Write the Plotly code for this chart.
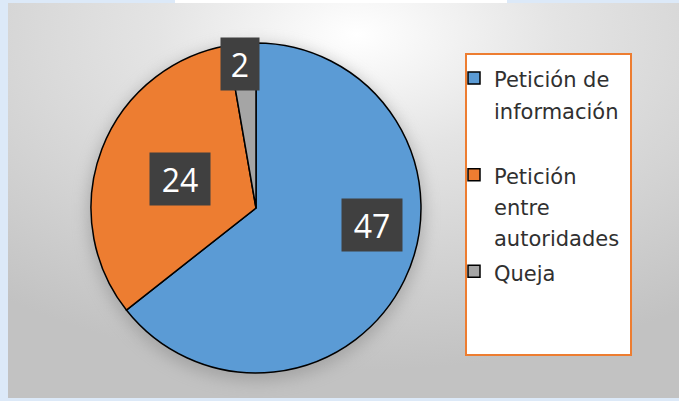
import math, base64
import plotly.graph_objects as go

# ---- data ----
categories = ["Petición de información", "Petición entre autoridades", "Queja"]
legend_lines = [["Petición de", "información", ""], ["Petición", "entre", "autoridades"], ["Queja"]]
values = [47, 24, 2]
colors = ["#5b9bd5", "#ed7d31", "#a5a5a5"]
label_pos = [(0.424, 0.71), (0.50, 0.49), (0.35, 0.88)]   # (fraction along slice, fraction of radius)

W, H = 679, 401
cx_px, cy_px, r_px = 256, 208, 165

svg = f'''<svg xmlns="http://www.w3.org/2000/svg" width="{W-8}" height="{H-6}" viewBox="0 0 {W-8} {H-6}">
<defs>
<radialGradient id="g" cx="0.52" cy="0.08" r="0.85" gradientUnits="objectBoundingBox">
<stop offset="0" stop-color="#ffffff"/>
<stop offset="0.35" stop-color="#e4e4e4"/>
<stop offset="1" stop-color="#c2c2c2"/>
</radialGradient>
<filter id="b" x="-50%" y="-50%" width="200%" height="200%"><feGaussianBlur stdDeviation="8"/></filter>
</defs>
<rect x="0" y="0" width="{W-8}" height="{H-6}" fill="url(#g)"/>
<circle cx="{cx_px-8}" cy="{cy_px-3+5}" r="{r_px+3}" fill="#8a8a8a" opacity="0.55" filter="url(#b)"/>
</svg>'''
src = "data:image/svg+xml;base64," + base64.b64encode(svg.encode()).decode()

dx0 = (cx_px - r_px) / W
dx1 = (cx_px + r_px) / W
dy0 = (H - cy_px - r_px) / H
dy1 = (H - cy_px + r_px) / H

span = "<span style='font-family:DejaVu Sans, sans-serif;font-size:21px'>{}</span>"
legend_labels = ["<br>".join(span.format(l if l else "&nbsp;") for l in lines) for lines in legend_lines]

fig = go.Figure()
fig.add_trace(go.Pie(
    labels=legend_labels,
    values=values,
    customdata=categories,
    sort=False,
    direction="clockwise",
    rotation=0,
    marker=dict(colors=colors, line=dict(color="#000000", width=1.5)),
    textinfo="none",
    hovertemplate="%{customdata}: %{value}<extra></extra>",
    domain=dict(x=[dx0, dx1], y=[dy0, dy1]),
))

total = sum(values)
cum = 0
pcx = (dx0 + dx1) / 2
pcy = (dy0 + dy1) / 2
rx = r_px / W
ry = r_px / H
for v, (fa, fr) in zip(values, label_pos):
    ang = (cum + fa * v) / total * 2 * math.pi
    cum += v
    x = pcx + fr * rx * math.sin(ang)
    y = pcy + fr * ry * math.cos(ang)
    fig.add_annotation(
        x=x, y=y, xref="paper", yref="paper", text=str(v), showarrow=False,
        font=dict(family="Open Sans, sans-serif", size=32, color="#ffffff"),
        bgcolor="#404040", width=58 if v >= 10 else 36, height=50,
        xanchor="center", yanchor="middle",
    )

fig.update_layout(
    width=W, height=H,
    margin=dict(l=0, r=0, t=0, b=0),
    paper_bgcolor="#dce9f8",
    plot_bgcolor="rgba(0,0,0,0)",
    images=[dict(source=src, xref="paper", yref="paper", x=8 / W, y=1 - 3 / H,
                 sizex=1 - 8 / W, sizey=1 - 6 / H, sizing="stretch", layer="below",
                 xanchor="left", yanchor="top")],
    shapes=[
        dict(type="rect", xref="paper", yref="paper", x0=175 / W, x1=507 / W,
             y0=1 - 3 / H, y1=1, fillcolor="#ffffff", line=dict(width=0), layer="below"),
        dict(type="rect", xref="paper", yref="paper", x0=466 / W, x1=631 / W,
             y0=1 - 355 / H, y1=1 - 54 / H, fillcolor="#ffffff",
             line=dict(color="#ed7d31", width=2), layer="below"),
    ],
    showlegend=True,
    legend=dict(
        x=454 / W, y=1 - 56 / H, xanchor="left", yanchor="top",
        bgcolor="rgba(0,0,0,0)", borderwidth=0, valign="top",
        font=dict(family="DejaVu Sans, sans-serif", size=24, color="#303030"),
        itemwidth=30, traceorder="normal",
    ),
)

fig.write_html("out.html", config={"displayModeBar": False},
               post_script="document.body.style.margin='0';")
